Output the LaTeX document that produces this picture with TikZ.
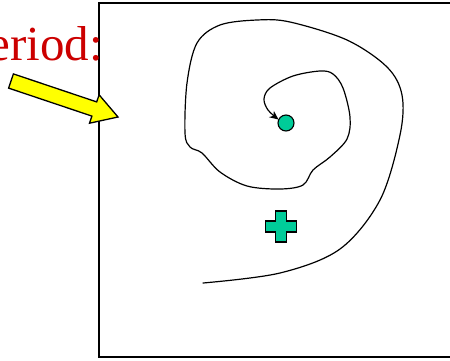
\documentclass[tikz,border=0pt]{standalone}
\usepackage{fontspec}
\setmainfont{Liberation Serif}
\usetikzlibrary{arrows.meta}
\definecolor{darkred}{HTML}{CC0000}
\definecolor{seagreen}{HTML}{00CC99}
\definecolor{lemon}{HTML}{FFFF00}

\begin{document}
\begin{tikzpicture}[x=1pt, y=-1pt,
      frame/.style={draw, line width=1.4pt},
      track/.style={draw, line width=1.2pt, line cap=round,
                    -{Stealth[length=9pt, width=8pt]}},
      marker/.style={draw, line width=1.1pt, fill=seagreen},
      pointer/.style={draw, line width=1.3pt, fill=lemon, line join=miter},
    ]
      \useasboundingbox (0,0) rectangle (450,360);
      \draw[frame] (99,3) rectangle (470,357);
      \node[anchor=base east, inner sep=0pt, text=darkred,
            font=\fontsize{49}{49}\selectfont] (title) at (103,60) {Period:};
      % yellow block arrow
      \draw[pointer] (8.6,88.1) -- (13.4,73.9) -- (96.7,101.9) -- (99.1,94.8)
        -- (118,117) -- (89.5,123.2) -- (91.9,116.1) -- cycle;
      \node[marker, circle, minimum size=16pt, inner sep=0pt] (focus) at (286,123) {};
      \coordinate (start) at (203,283);
      \draw[track] plot[smooth, tension=0.55] coordinates {
        (start) (280,273) (340,249) (380,200) (400,135) (402,95) (387,67)
        (347,40) (290,22) (257,20) (220,25) (197,43) (187,83) (185,133)
        (190,147) (202,153) (220,172) (247,186) (280,189) (303,185)
        (313,170) (330,157) (347,139) (350,117) (343,88) (333,74) (320,71)
        (293,76) (270,88) (264,99) (268,110) (278.5,119.5)};
      \draw[marker] (275.5,211) -- (286.5,211) -- (286.5,221) -- (296.5,221)
        -- (296.5,232) -- (286.5,232) -- (286.5,242) -- (275.5,242)
        -- (275.5,232) -- (265.5,232) -- (265.5,221) -- (275.5,221) -- cycle;
    \end{tikzpicture}
\end{document}
